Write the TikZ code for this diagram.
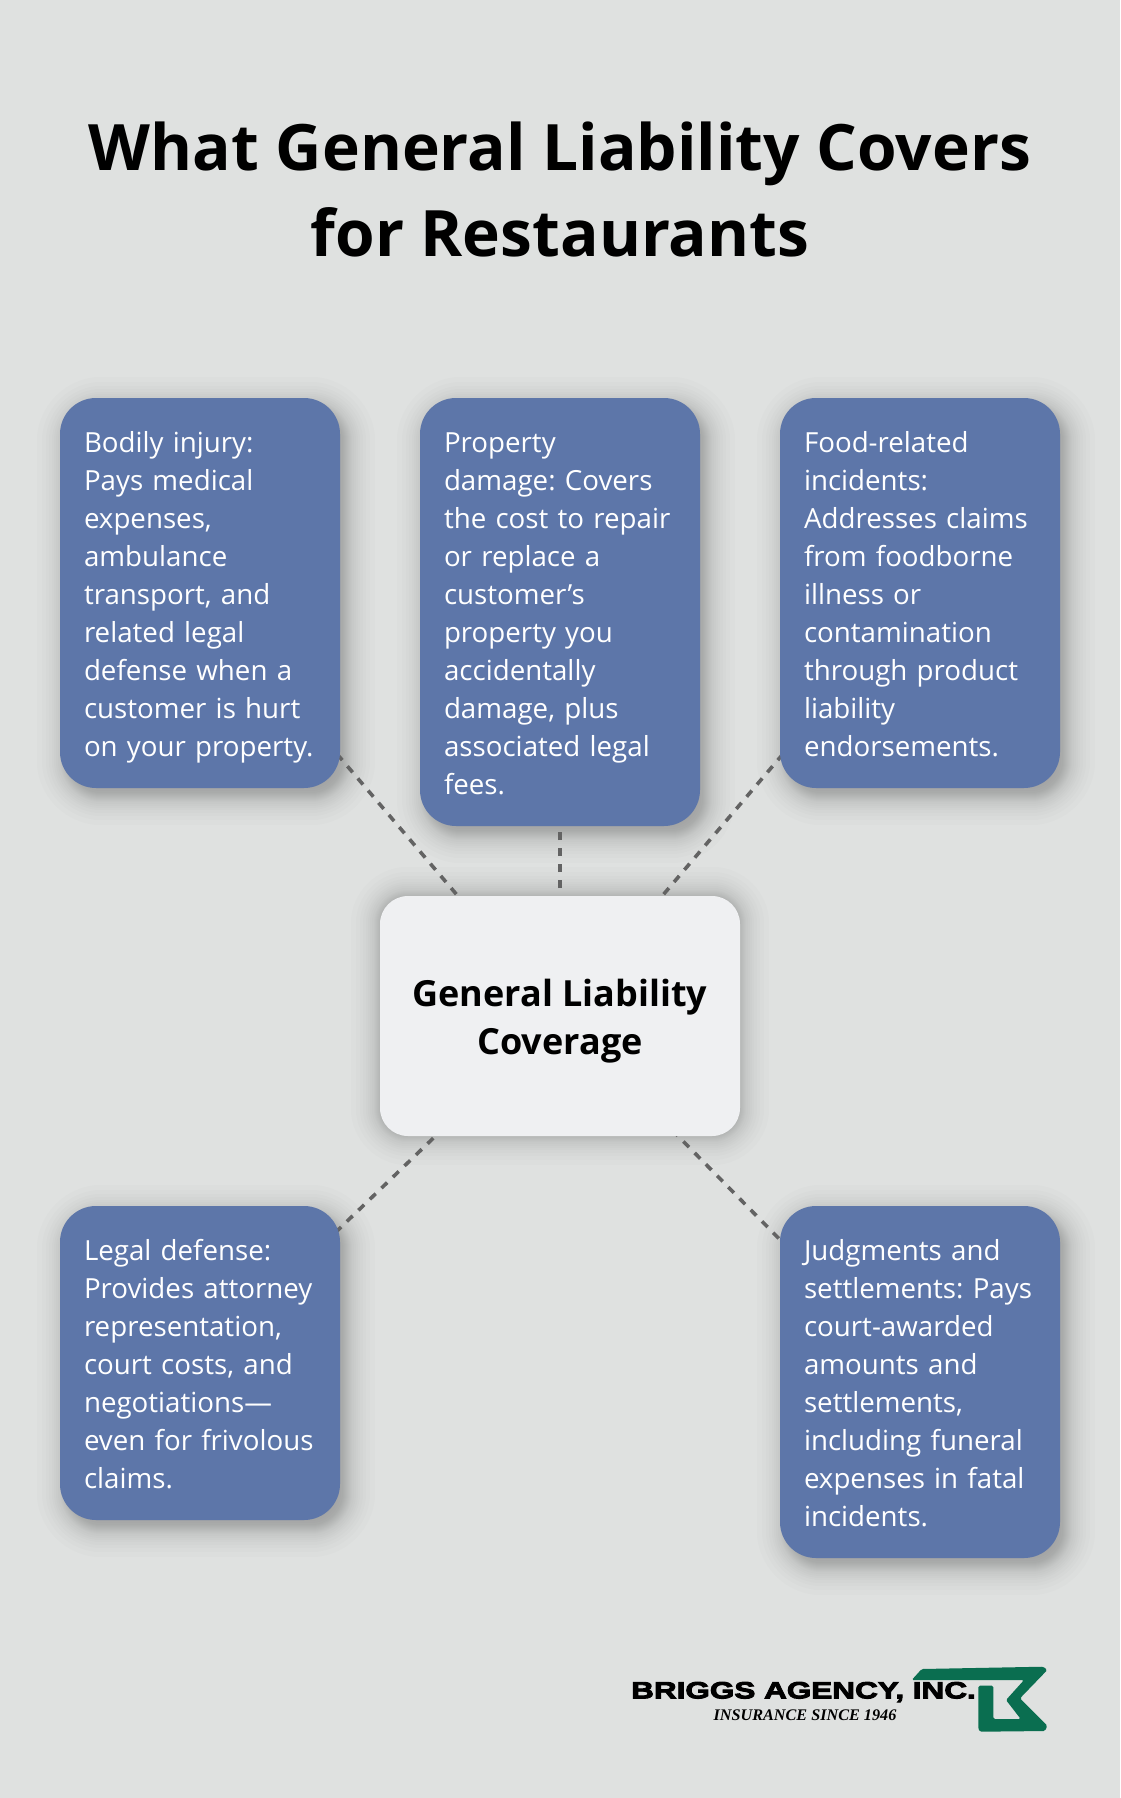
\documentclass[tikz,border=0pt]{standalone}
\usepackage{fontspec}
\setmainfont{Open Sans}
\newfontfamily\logofont[FakeStretch=1.34,FakeBold=4]{Liberation Sans Bold}
\newfontfamily\tagfont{Liberation Serif}
\usetikzlibrary{backgrounds}
\definecolor{pagebg}{HTML}{DFE1E0}
\definecolor{bluebox}{HTML}{5D76A9}
\definecolor{centerbox}{HTML}{EFF0F2}
\definecolor{dashcol}{HTML}{636363}
\definecolor{logogreen}{HTML}{0A6E50}
\pgfdeclarelayer{shadowlayer}
\pgfdeclarelayer{linelayer}
\pgfsetlayers{shadowlayer,linelayer,main}
\newcommand{\softshadow}[5]{% name, dx, dy, alpha, radius
  \begin{pgfonlayer}{shadowlayer}
    \foreach \d in {-22,-16,-12,-9,-7,-5,-3,-2,-1,0,1,2,3,4,5,6,8,10,12,14,17,20,24,29} {
      \pgfmathsetmacro{\rr}{max(#5+\d,4)}
      \fill[black,opacity=#4,rounded corners=\rr pt]
        ([shift={(#2-\d,#3-\d)}]#1.north west) rectangle ([shift={(#2+\d,#3+\d)}]#1.south east);
    }
  \end{pgfonlayer}
}
\tikzset{
  infobox/.style={rectangle,fill=bluebox,rounded corners=36pt,minimum width=280pt,inner sep=0pt,
    text width=232pt,align=left,text=white,font=\frenchspacing\fontsize{27.7}{38}\selectfont,
    execute at begin node={\rule{0pt}{34.5pt}},execute at end node={\strut}},
  hubbox/.style={rectangle,fill=centerbox,rounded corners=28pt,minimum width=360pt,minimum height=240pt,
    inner sep=0pt,align=center,text=black,font=\bfseries\fontsize{36}{48}\selectfont},
  titletext/.style={inner sep=0pt,align=center,text=black,font=\bfseries\fontsize{64}{86}\selectfont},
  conn/.style={draw=dashcol,line width=3.6pt,dash pattern=on 8pt off 8pt},
}
\begin{document}
\begin{tikzpicture}[x=1pt,y=-1pt]
\useasboundingbox (0,0) rectangle (1120,1798);
\begin{pgfonlayer}{shadowlayer}
\fill[pagebg] (0,0) rectangle (1120,1798);
\end{pgfonlayer}
\node[titletext] (title) at (560,189.3) {What General Liability Covers\\for Restaurants};
\node[infobox,minimum height=390pt] (bodily) at (200,593) {Bodily injury:\\Pays medical\\expenses,\\ambulance\\transport, and\\related legal\\defense when a\\customer is hurt\\on your property.};
\node[infobox,minimum height=428pt] (property) at (560,612) {Property\\damage: Covers\\the cost to repair\\or replace a\\customer’s\\property you\\accidentally\\damage, plus\\associated legal\\fees.};
\node[infobox,minimum height=390pt] (food) at (920,593) {Food-related\\incidents:\\Addresses claims\\from foodborne\\illness or\\contamination\\through product\\liability\\endorsements.};
\node[hubbox] (hub) at (560,1016) {\rule{0pt}{37pt}General Liability\\Coverage};
\node[infobox,minimum height=314pt] (legal) at (200,1363) {Legal defense:\\Provides attorney\\representation,\\court costs, and\\negotiations—\\even for frivolous\\claims.};
\node[infobox,minimum height=352pt] (judg) at (920,1382) {Judgments and\\settlements: Pays\\court-awarded\\amounts and\\settlements,\\including funeral\\expenses in fatal\\incidents.};
\softshadow{bodily}{6}{8}{0.013}{36}
\softshadow{property}{6}{8}{0.013}{36}
\softshadow{food}{6}{8}{0.013}{36}
\softshadow{legal}{6}{8}{0.013}{36}
\softshadow{judg}{6}{8}{0.013}{36}
\softshadow{hub}{0}{0}{0.010}{28}
\begin{pgfonlayer}{linelayer}
\draw[conn] (hub.center) -- (bodily.center);
\draw[conn] (hub.center) -- (property.center);
\draw[conn] (hub.center) -- (food.center);
\draw[conn] (hub.center) -- (legal.center);
\draw[conn] (hub.center) -- (judg.center);
\end{pgfonlayer}
% logo
\fill[logogreen,rounded corners=1.5pt] (911.7,1680) -- (921.7,1669) -- (1043.3,1666.7) -- (1047.3,1670) -- (1020,1698.3) -- (1047.3,1725.7) -- (1045,1731) -- (980,1731.7) -- (978.3,1729) -- (978.3,1685.7) -- (993.3,1685.7) -- (993.3,1719) -- (1020.7,1719) -- (1006,1700) -- (1024,1680) -- cycle;
\node[inner sep=0pt,text=black,font=\logofont\fontsize{23.5}{24}\selectfont] (brand) at (803.5,1692) {BRIGGS AGENCY, INC.};
\node[inner sep=0pt,text=black,font=\tagfont\itshape\bfseries\fontsize{16.2}{18}\selectfont] (tag) at (805,1714.7) {INSURANCE SINCE 1946};
\end{tikzpicture}
\end{document}
